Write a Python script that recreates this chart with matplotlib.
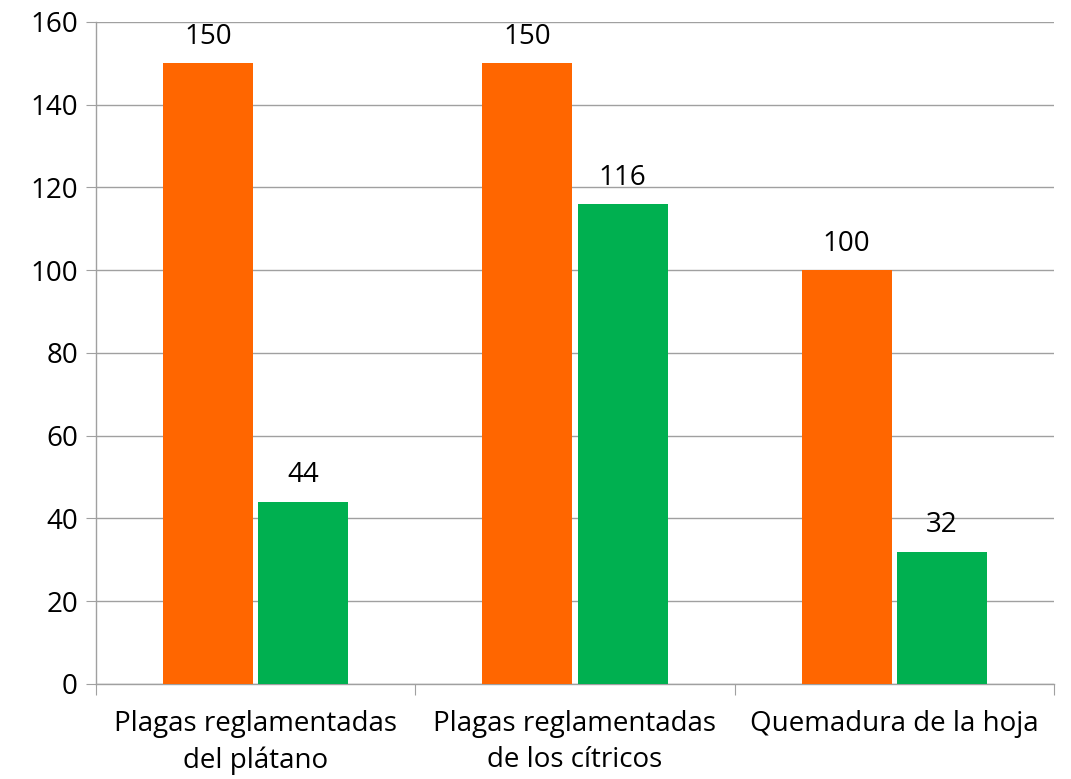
import matplotlib
matplotlib.use("Agg")
import matplotlib.pyplot as plt
import numpy as np

categories = ["Plagas reglamentadas\ndel plátano", "Plagas reglamentadas\nde los cítricos", "Quemadura de la hoja"]
serie_naranja = [150, 150, 100]
serie_verde = [44, 116, 32]
yticks = [0, 20, 40, 60, 80, 100, 120, 140, 160]

plt.rcParams['font.family'] = ['Open Sans', 'DejaVu Sans']

fig = plt.figure(figsize=(10.71, 7.79), dpi=100)
ax = fig.add_axes([0.0896, 0.1220, 0.9841 - 0.0896, 0.9718 - 0.1220])

x = np.arange(len(categories))
w = 0.282
off = 0.149
b1 = ax.bar(x - off, serie_naranja, w, color="#FF6600", zorder=3)
b2 = ax.bar(x + off, serie_verde, w, color="#00B050", zorder=3)

for bars, vals in ((b1, serie_naranja), (b2, serie_verde)):
    for r, v in zip(bars, vals):
        ax.annotate(str(v), (r.get_x() + r.get_width() / 2, v), xytext=(0, 9),
                    textcoords="offset points", ha="center", va="bottom", fontsize=20)

ax.set_xlim(-0.5, 2.5)
ax.set_ylim(0, 160)
ax.set_yticks(yticks)
ax.tick_params(axis='y', labelsize=20, length=7, color="#A0A0A0", pad=6)
ax.yaxis.grid(True, color="#A0A0A0", linewidth=1, zorder=0)

ax.set_xticks([-0.5, 0.5, 1.5, 2.5])
ax.set_xticklabels([])
ax.set_xticks(x, minor=True)
ax.set_xticklabels(categories, minor=True, fontsize=20, linespacing=1.38)
ax.tick_params(axis='x', which='major', length=8, color="#A0A0A0")
ax.tick_params(axis='x', which='minor', length=0, pad=19)

for s in ("top", "right"):
    ax.spines[s].set_visible(False)
for s in ("left", "bottom"):
    ax.spines[s].set_color("#A0A0A0")
    ax.spines[s].set_linewidth(1)
ax.set_axisbelow(True)

fig.savefig("out.png", dpi=100)
